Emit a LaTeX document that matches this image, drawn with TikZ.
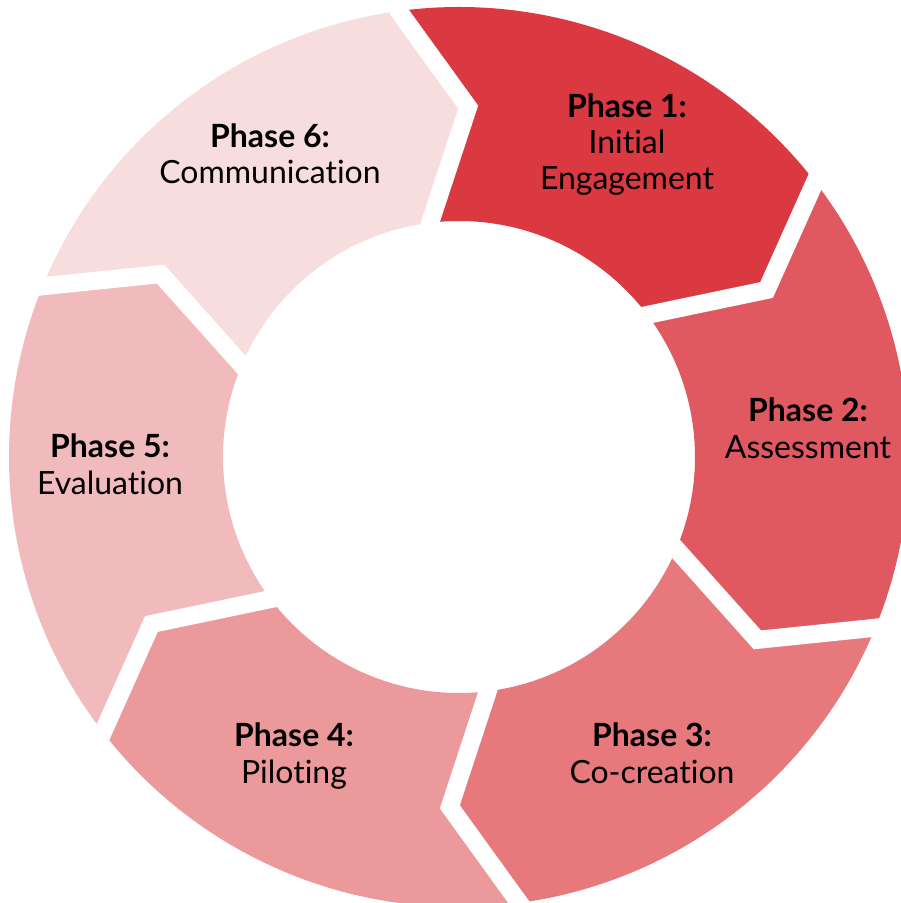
\documentclass[tikz,border=0pt]{standalone}
\usepackage{fontspec}
\setmainfont[Ligatures=NoCommon]{Lato}
\usepackage{tikz}
\definecolor{phaseone}{RGB}{218,57,66}
\definecolor{phasetwo}{RGB}{224,89,96}
\definecolor{phasethree}{RGB}{231,121,124}
\definecolor{phasefour}{RGB}{236,153,155}
\definecolor{phasefive}{RGB}{241,187,190}
\definecolor{phasesix}{RGB}{247,221,222}
\tikzstyle{divider}=[draw=white, line width=0.36cm, line join=miter]
\tikzstyle{phasetext}=[anchor=base, align=center, text=black, font=\fontsize{18.2}{20.5}\selectfont]

\begin{document}
\begin{tikzpicture}[x=0.02cm, y=0.02cm]
          \useasboundingbox (-459,-446) rectangle (441,457);

          % ring segments, clockwise from the top
          \fill[phaseone] (99:450) arc[start angle=99, end angle=39, radius=450]
                -- (28.5:350) -- (39:236) arc[start angle=39, end angle=99, radius=236]
                -- (88.5:350) -- cycle;
          \fill[phasetwo] (39:450) arc[start angle=39, end angle=-21, radius=450]
                -- (-31.5:350) -- (-21:236) arc[start angle=-21, end angle=39, radius=236]
                -- (28.5:350) -- cycle;
          \fill[phasethree] (-21:450) arc[start angle=-21, end angle=-81, radius=450]
                -- (-91.5:350) -- (-81:236) arc[start angle=-81, end angle=-21, radius=236]
                -- (-31.5:350) -- cycle;
          \fill[phasefour] (-81:450) arc[start angle=-81, end angle=-141, radius=450]
                -- (-151.5:350) -- (-141:236) arc[start angle=-141, end angle=-81, radius=236]
                -- (-91.5:350) -- cycle;
          \fill[phasefive] (-141:450) arc[start angle=-141, end angle=-201, radius=450]
                -- (-211.5:350) -- (-201:236) arc[start angle=-201, end angle=-141, radius=236]
                -- (-151.5:350) -- cycle;
          \fill[phasesix] (-201:450) arc[start angle=-201, end angle=-261, radius=450]
                -- (-271.5:350) -- (-261:236) arc[start angle=-261, end angle=-201, radius=236]
                -- (-211.5:350) -- cycle;

          % white gaps between the segments
          \draw[divider] (99:470) -- (88.5:350) -- (99:220);
          \draw[divider] (39:470) -- (28.5:350) -- (39:220);
          \draw[divider] (-21:470) -- (-31.5:350) -- (-21:220);
          \draw[divider] (-81:470) -- (-91.5:350) -- (-81:220);
          \draw[divider] (-141:470) -- (-151.5:350) -- (-141:220);
          \draw[divider] (-201:470) -- (-211.5:350) -- (-201:220);

          % labels, placed at the baseline of their last line
          \node[phasetext] (ph1) at (168,267) {\textbf{Phase 1:}\\Initial\\Engagement};
          \node[phasetext] (ph2) at (349,-1) {\textbf{Phase 2:}\\Assessment};
          \node[phasetext] (ph3) at (193,-326) {\textbf{Phase 3:}\\Co-creation};
          \node[phasetext] (ph4) at (-165,-326) {\textbf{Phase 4:}\\Piloting};
          \node[phasetext] (ph5) at (-349,-37) {\textbf{Phase 5:}\\Evaluation};
          \node[phasetext] (ph6) at (-189,273) {\textbf{Phase 6:}\\Communication};
        \end{tikzpicture}
\end{document}
